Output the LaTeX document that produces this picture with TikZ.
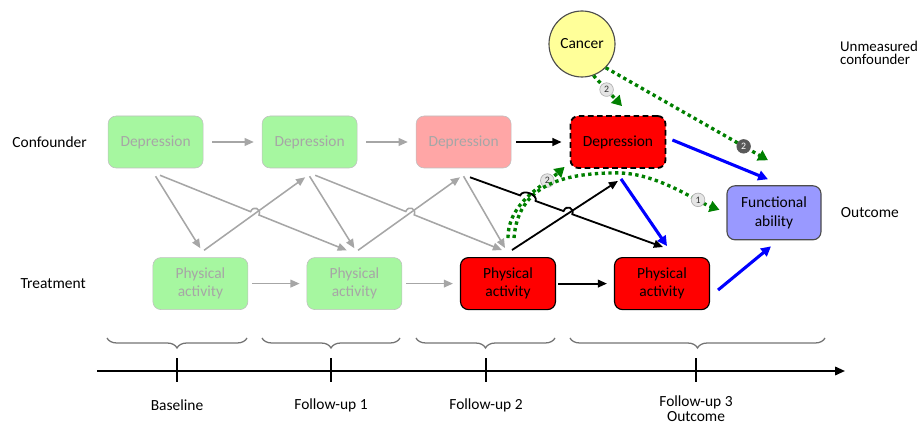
\documentclass[tikz,border=0pt]{standalone}
\usepackage{fontspec}
\setmainfont{Carlito}
\usetikzlibrary{calc,arrows.meta,decorations.pathreplacing}
\definecolor{oldgreen}{RGB}{166,247,160}
\definecolor{oldpink}{RGB}{255,166,166}
\definecolor{funcblue}{RGB}{153,153,255}
\definecolor{cancyellow}{RGB}{255,255,153}
\definecolor{fadegray}{RGB}{166,166,166}
\definecolor{dotgreen}{RGB}{0,128,0}
\def\hopline[#1](#2)(#3)(#4:#5){\draw[#1] (#2) -- ($(#2)!#4!(#3)$) .. controls ($(#2)!#4!(#3)!5pt!90:(#3)$) and ($(#2)!#5!(#3)!5pt!-90:(#2)$) .. ($(#2)!#5!(#3)$) -- (#3);}
\tikzset{
	txt/.style={font=\fontsize{11}{13}\selectfont},
	var/.style={txt, rectangle, rounded corners=0.2cm, minimum width=2.375cm, minimum height=1.3cm, align=center},
	pastbox/.style={var, fill=oldgreen, draw=black!25, text=fadegray},
	pinkbox/.style={var, fill=oldpink, draw=black!25, text=fadegray},
	nowbox/.style={var, fill=red, draw=black, line width=0.8pt},
	grayarrow/.style={draw=fadegray, line width=1.1pt, -{Triangle[length=6.5pt,width=5.5pt]}},
	blackarrow/.style={draw=black, line width=1.3pt, -{Triangle[length=6.5pt,width=5.5pt]}},
	bluearrow/.style={draw=blue, line width=2.2pt, -{Triangle[length=7pt,width=7pt]}},
	greenpath/.style={draw=dotgreen, line width=2.4pt, dash pattern=on 2.4pt off 2.4pt, -{Triangle[length=7pt,width=8pt]}},
	numlight/.style={circle, solid, fill=black!10, draw=black!30, line width=0.5pt, inner sep=0pt, minimum size=0.34cm, font=\fontsize{7}{7}\selectfont, text=black!80},
	numdark/.style={numlight, fill=black!65, draw=black!65, text=white},
	timebrace/.style={draw=black!55, line width=0.9pt, decorate, decoration={brace, amplitude=0.25cm}},
}

\begin{document}
\begin{tikzpicture}
	%%%%% START %%%%%
	
	\useasboundingbox (0, 0) rectangle (23.05, 10.65);
	
	\node[txt] (conf) at (1.24, 7.1) {Confounder};
	\node[txt] (treat) at (1.33, 3.55) {Treatment};
	\node[txt, anchor=west, align=left, font=\fontsize{10.6}{9.5}\selectfont] (unmeas) at (20.88, 9.33) {Unmeasured\\confounder};
	\node[txt, anchor=west] (outc) at (20.9, 5.33) {Outcome};
	
	\node[pastbox] (dep1) at (3.89, 7.1) {Depression};
	\node[pastbox] (dep2) at (7.74, 7.1) {Depression};
	\node[pinkbox] (dep3) at (11.59, 7.1) {Depression};
	\node[nowbox, dash pattern=on 4pt off 2.5pt, line width=1.3pt] (dep4) at (15.45, 7.1) {Depression};
	
	\node[pastbox] (pa1) at (5.01, 3.56) {Physical\\activity};
	\node[pastbox] (pa2) at (8.86, 3.56) {Physical\\activity};
	\node[nowbox] (pa3) at (12.7, 3.56) {Physical\\activity};
	\node[nowbox] (pa4) at (16.55, 3.56) {Physical\\activity};
	
	\node[var, fill=funcblue, draw=black!70, line width=0.8pt, minimum width=2.35cm, minimum height=1.35cm] (func) at (19.35, 5.33) {Functional\\ability};
	\node[txt, circle, fill=cancyellow, draw=black!70, line width=0.8pt, minimum size=1.65cm, inner sep=0pt] (cancer) at (14.55, 9.55) {Cancer};
	
	% same variable, next visit
	\draw[grayarrow] ([xshift=0.225cm]dep1.east) -- ([xshift=-0.2cm]dep2.west);
	\draw[grayarrow] ([xshift=0.225cm]dep2.east) -- ([xshift=-0.2cm]dep3.west);
	\draw[blackarrow] ([xshift=0.125cm]dep3.east) -- ([xshift=-0.2cm]dep4.west);
	\draw[grayarrow] ([xshift=0.1cm]pa1.east) -- ([xshift=-0.175cm]pa2.west);
	\draw[grayarrow] ([xshift=0.1cm]pa2.east) -- ([xshift=-0.175cm]pa3.west);
	\draw[blackarrow] ([xshift=0.05cm]pa3.east) -- ([xshift=-0.175cm]pa4.west);
	
	% between the two rows
	\draw[grayarrow] ([yshift=-0.2cm]dep1.south) -- ([yshift=0.225cm]pa1.north);
	\draw[grayarrow] ([xshift=0.09cm,yshift=0.175cm]pa1.north) -- ([xshift=-0.11cm,yshift=-0.225cm]dep2.south);
	\draw[grayarrow] ([yshift=-0.2cm]dep2.south) -- ([yshift=0.225cm]pa2.north);
	\draw[grayarrow] ([xshift=0.09cm,yshift=0.175cm]pa2.north) -- ([xshift=-0.09cm,yshift=-0.225cm]dep3.south);
	\draw[grayarrow] ([yshift=-0.2cm]dep3.south) -- ([xshift=-0.075cm,yshift=0.225cm]pa3.north);
	\coordinate (d1o) at ([xshift=0.11cm,yshift=-0.175cm]dep1.south);
	\coordinate (p2i) at ([xshift=-0.19cm,yshift=0.175cm]pa2.north);
	\hopline[grayarrow](d1o)(p2i)(0.485:0.53)
	\coordinate (d2o) at ([xshift=0.14cm,yshift=-0.175cm]dep2.south);
	\coordinate (p3i) at ([xshift=-0.15cm,yshift=0.175cm]pa3.north);
	\hopline[grayarrow](d2o)(p3i)(0.485:0.53)
	
	% unmeasured paths
	\draw[greenpath] (cancer.-70) -- ([xshift=0.1cm,yshift=0.225cm]dep4.north) node[numlight, pos=0.46] (n2a) {2};
	\draw[greenpath] (cancer.-45) -- ([xshift=-0.15cm,yshift=0.625cm]func.north) node[numdark, pos=0.85] (n2b) {2};
	\draw[greenpath] ([yshift=0.475cm]pa3.north) .. controls +(0, 0.9) and +(-0.5, -0.45) .. ([xshift=-0.125cm,yshift=0.05cm]dep4.south west) node[numlight, pos=0.75] (n2c) {2};
	\coordinate (apex) at ([xshift=-0.02cm,yshift=-0.1cm]dep4.south);
	\draw[greenpath] ([xshift=0.15cm,yshift=0.475cm]pa3.north) .. controls +(0.1, 1.3) and +(-1.4, 0) .. (apex) .. controls +(1.0, 0) and +(-0.6, 0.22) .. ([xshift=-0.175cm,yshift=0.075cm]func.west) node[numlight, pos=0.74] (n1) {1};
	
	\draw[blackarrow] ([xshift=0.1cm,yshift=0.175cm]pa3.north) -- ([yshift=-0.3cm]dep4.south);
	\coordinate (d3o) at ([xshift=0.16cm,yshift=-0.225cm]dep3.south);
	\coordinate (p4i) at ([xshift=0.025cm,yshift=0.25cm]pa4.north);
	\draw[blackarrow] (d3o) -- ($(d3o)!0.26!(p4i)$) .. controls ($(d3o)!0.26!(p4i)!5pt!90:(p4i)$) and ($(d3o)!0.34!(p4i)!5pt!-90:(d3o)$) .. ($(d3o)!0.34!(p4i)$) -- ($(d3o)!0.485!(p4i)$) .. controls ($(d3o)!0.485!(p4i)!5pt!90:(p4i)$) and ($(d3o)!0.53!(p4i)!5pt!-90:(d3o)$) .. ($(d3o)!0.53!(p4i)$) -- (p4i);
	
	% into the outcome
	\draw[bluearrow] ([xshift=0.075cm,yshift=-0.25cm]dep4.south) -- ([xshift=0.125cm,yshift=0.275cm]pa4.north);
	\draw[bluearrow] ([xshift=0.15cm,yshift=0.05cm]dep4.east) -- ([xshift=-0.15cm,yshift=0.15cm]func.north);
	\draw[bluearrow] ([xshift=0.2cm,yshift=-0.16cm]pa4.east) -- ([xshift=-0.075cm,yshift=-0.15cm]func.south);
	
	% time line
	\draw[timebrace] (6.175, 2.2) -- (2.675, 2.2);
	\draw[timebrace] (10.0, 2.2) -- (6.55, 2.2);
	\draw[timebrace] (13.875, 2.2) -- (10.4, 2.2);
	\draw[timebrace] (20.625, 2.2) -- (14.25, 2.2);
	
	\draw[line width=1.3pt, -{Triangle[length=7pt,width=6pt]}] (2.425, 1.375) -- (21.125, 1.375);
	\draw[line width=1pt] (4.425, 1.1) -- (4.425, 1.7);
	\draw[line width=1pt] (8.275, 1.1) -- (8.275, 1.7);
	\draw[line width=1pt] (12.15, 1.1) -- (12.15, 1.7);
	\draw[line width=1pt] (17.4, 1.1) -- (17.4, 1.7);
	
	\node[txt] (base) at (4.425, 0.525) {Baseline};
	\node[txt] (fu1) at (8.275, 0.525) {Follow-up 1};
	\node[txt] (fu2) at (12.15, 0.525) {Follow-up 2};
	\node[txt, align=center, inner sep=1pt, font=\fontsize{11}{11}\selectfont] (fu3) at (17.4, 0.43) {Follow-up 3\\Outcome};
	
	%%%%% END %%%%%
\end{tikzpicture}
\end{document}
